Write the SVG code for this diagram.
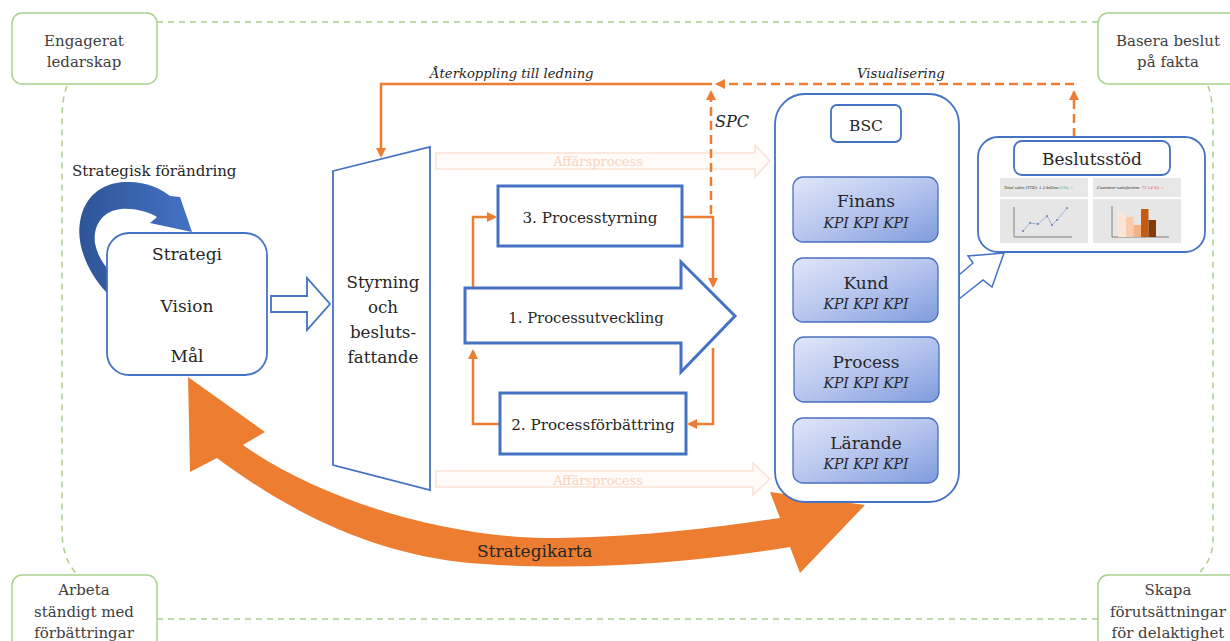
<svg xmlns="http://www.w3.org/2000/svg" width="1230" height="641" viewBox="0 0 1230 641">
<style>
text{font-family:"DejaVu Serif","Liberation Serif",serif;fill:#262626}
.g{fill:#fff;stroke:#A9D18E;stroke-width:1.5}
.gt{font-size:15px;fill:#404040;text-anchor:middle}
.gd{fill:none;stroke:#A9D18E;stroke-width:1.5;stroke-dasharray:6 5}
.b{fill:#fff;stroke:#4472C4;stroke-width:1.8}
.bt{stroke:#4472C4;stroke-width:3;fill:#fff}
.o{fill:none;stroke:#ED7D31;stroke-width:2.5}
.od{fill:none;stroke:#ED7D31;stroke-width:2.5;stroke-dasharray:9 5}
.c{text-anchor:middle}
.it{font-style:italic}
.kp{fill:url(#kpg);stroke:#4A70C0;stroke-width:1.3}
.af{fill:#FEFBF9;stroke:#FBE2D3;stroke-width:1.5}
.aft{fill:#F9D5BF;font-size:13px;text-anchor:middle}
</style>
<defs>
<marker id="ah" viewBox="0 0 10 10" refX="8" refY="5" markerWidth="4" markerHeight="4" orient="auto"><path d="M0,0 L10,5 L0,10 z" fill="#ED7D31"/></marker>
<linearGradient id="kpg" x1="0" y1="0" x2="1" y2="1"><stop offset="0" stop-color="#E1E7F7"/><stop offset="0.5" stop-color="#B6C5EE"/><stop offset="1" stop-color="#7F9BDD"/></linearGradient>
<linearGradient id="bcg" x1="0" y1="0" x2="1" y2="0"><stop offset="0" stop-color="#2E5597"/><stop offset="1" stop-color="#4472C4"/></linearGradient>
</defs>

<g id="frame">
<path class="gd" d="M157,22 L1098,22"/>
<path class="gd" d="M157,619 L1098,619"/>
<path class="gd" d="M67,86 Q62,98 62,120 L62,530 Q62,560 78,575"/>
<path class="gd" d="M1208,86 Q1213,98 1213,125 L1213,540 Q1213,560 1197,575"/>
</g>

<g id="engagerat"><rect class="g" x="12" y="13" width="145" height="71" rx="10"/><text class="gt" x="84" y="46">Engagerat</text><text class="gt" x="84" y="67">ledarskap</text></g>
<g id="basera"><rect class="g" x="1098" y="13" width="150" height="71" rx="10"/><text class="gt" x="1168" y="46">Basera beslut</text><text class="gt" x="1168" y="67">på fakta</text></g>
<g id="arbeta"><rect class="g" x="12" y="575" width="145" height="90" rx="10"/><text class="gt" x="84" y="595">Arbeta</text><text class="gt" x="84" y="617">ständigt med</text><text class="gt" x="84" y="638">förbättringar</text></g>
<g id="skapa"><rect class="g" x="1098" y="575" width="150" height="90" rx="10"/><text class="gt" x="1168" y="595">Skapa</text><text class="gt" x="1168" y="617">förutsättningar</text><text class="gt" x="1168" y="638">för delaktighet</text></g>

<g id="affarsprocess-top"><polygon class="af" points="436,153 755,153 755,145 770,161 755,177 755,169 436,169"/><text class="aft" x="598" y="166">Affärsprocess</text></g>
<g id="affarsprocess-bottom"><polygon class="af" points="436,471 753,471 753,463 770,479 753,495 753,487 436,487"/><text class="aft" x="598" y="485">Affärsprocess</text></g>

<g id="connectors">
<path d="M107,293 C88,273 76,245 80,222 C84,196 102,183 125,182 C145,181 160,188 170,196 L180,197 L192,232 L150,223 L157,217 C147,211 133,208 121,209 C102,211 93,226 95,243 C97,253 101,261 107,268 Z" fill="url(#bcg)"/>
<path d="M188,377 L265,432 L243,445 C320,500 450,540 560,538 C660,536 730,525 780,518 L770,492 L865,505 L800,573 L790,547 C680,565 560,572 460,562 C360,550 280,505 217,458 L190,472 Z" fill="#ED7D31"/>
<polygon class="b" points="271,296 307,296 307,278 330,304 307,330 307,312 271,312"/>
<polygon fill="#fff" stroke="#4472C4" stroke-width="1.5" points="959,275 973,263 968,256 1004,253 992,287 983,280 959,299"/>
<path class="o" d="M712,84 L381,84 L381,156" marker-end="url(#ah)"/>
<path class="od" d="M1074,137 L1074,92" marker-end="url(#ah)"/>
<path class="od" d="M1074,84 L717,84" marker-end="url(#ah)"/>
<path class="od" d="M711,214 L711,92" marker-end="url(#ah)"/>
<path class="o" d="M682,217 L713,217 L713,286" marker-end="url(#ah)"/>
<path class="o" d="M713,348 L713,424 L689,424" marker-end="url(#ah)"/>
<path class="o" d="M500,424 L473,424 L473,351" marker-end="url(#ah)"/>
<path class="o" d="M473,288 L473,217 L495,217" marker-end="url(#ah)"/>
<text class="it" x="430" y="78" font-size="13.2">Återkoppling till ledning</text>
<text class="it" x="857" y="78" font-size="13.3">Visualisering</text>
<text class="it" x="715" y="127" font-size="16">SPC</text>
<text x="72" y="176" font-size="15">Strategisk förändring</text>
<text x="477" y="557" font-size="17" fill="#222">Strategikarta</text>
</g>

<g id="strategi"><rect class="b" x="107" y="233" width="160" height="142" rx="22"/><text class="c" x="187" y="260" font-size="17">Strategi</text><text class="c" x="187" y="312" font-size="17">Vision</text><text class="c" x="187" y="362" font-size="17">Mål</text></g>

<g id="styrning"><polygon class="b" points="333,171 430,147 430,490 333,465"/><text class="c" x="383" y="288" font-size="16.7">Styrning</text><text class="c" x="383" y="313" font-size="16.7">och</text><text class="c" x="383" y="338" font-size="16.7">besluts-</text><text class="c" x="383" y="363" font-size="16.7">fattande</text></g>

<g id="processtyrning"><rect class="bt" x="498" y="186" width="184" height="60"/><text class="c" x="590" y="223" font-size="15.2">3. Processtyrning</text></g>
<g id="processutveckling"><polygon class="bt" points="465,288 681,288 681,262 735,316 681,372 681,343 465,343"/><text class="c" x="586" y="323" font-size="14.8">1. Processutveckling</text></g>
<g id="processforbattring"><rect class="bt" x="500" y="393" width="186" height="61"/><text class="c" x="593" y="430" font-size="15.2">2. Processförbättring</text></g>

<g id="bsc">
<rect class="b" x="775" y="94" width="184" height="408" rx="30"/>
<rect class="b" x="831" y="105" width="70" height="37" rx="6" stroke-width="1.5"/><text class="c" x="866" y="131" font-size="15.5">BSC</text>
<g id="finans"><rect class="kp" x="793" y="177" width="145" height="65" rx="10"/><text class="c" x="866" y="207" font-size="17">Finans</text><text class="c it" x="866" y="228" font-size="14">KPI KPI KPI</text></g>
<g id="kund"><rect class="kp" x="793" y="258" width="145" height="64" rx="10"/><text class="c" x="866" y="289" font-size="17">Kund</text><text class="c it" x="866" y="309" font-size="14">KPI KPI KPI</text></g>
<g id="process"><rect class="kp" x="794" y="337" width="145" height="65" rx="10"/><text class="c" x="866" y="368" font-size="17">Process</text><text class="c it" x="866" y="388" font-size="14">KPI KPI KPI</text></g>
<g id="larande"><rect class="kp" x="793" y="418" width="145" height="65" rx="10"/><text class="c" x="866" y="449" font-size="17">Lärande</text><text class="c it" x="866" y="469" font-size="14">KPI KPI KPI</text></g>
</g>

<g id="beslutsstod">
<rect class="b" x="978" y="137" width="227" height="115" rx="20"/>
<rect class="b" x="1014" y="141" width="156" height="34" rx="8" stroke-width="1.5"/><text class="c" x="1092" y="165" font-size="17">Beslutsstöd</text>
<rect x="1000" y="178" width="88" height="19" fill="#E8E8E8"/>
<rect x="1093" y="178" width="88" height="19" fill="#E8E8E8"/>
<rect x="1000" y="199" width="88" height="44" fill="#E6E6E6"/>
<rect x="1093" y="199" width="88" height="44" fill="#E6E6E6"/>
<text class="it" x="1004" y="188.5" font-size="3.8" fill="#555">Total sales (YTD): 1.2 billion <tspan fill="#3BAA5C">(5%) ↗</tspan></text>
<text class="it" x="1097" y="188.5" font-size="3.8" fill="#555">Customer satisfaction: <tspan fill="#E53935">73 (-4 %) ↘</tspan></text>
<path d="M1014,207 L1014,237 L1072,237" fill="none" stroke="#666" stroke-width="0.8"/>
<polyline points="1023,231 1030,223 1038,224 1047,216 1052,225 1057,220 1067,208" fill="none" stroke="#8FA3C9" stroke-width="0.8"/>
<g fill="#6F86B8"><circle cx="1023" cy="231" r="1.1"/><circle cx="1030" cy="223" r="1.1"/><circle cx="1038" cy="224" r="1.1"/><circle cx="1047" cy="216" r="1.1"/><circle cx="1052" cy="225" r="1.1"/><circle cx="1057" cy="220" r="1.1"/><circle cx="1067" cy="208" r="1.1"/></g>
<path d="M1112,206 L1112,237 L1169,237" fill="none" stroke="#666" stroke-width="0.8"/>
<rect x="1118" y="212" width="8" height="25" fill="#FBE5D6"/>
<rect x="1126" y="217" width="7.5" height="20" fill="#F8CBAD"/>
<rect x="1133.5" y="225" width="7.5" height="12" fill="#F4B183"/>
<rect x="1141" y="209" width="7.5" height="28" fill="#C55A11"/>
<rect x="1148.5" y="220" width="7.5" height="17" fill="#843C0C"/>
</g>
</svg>
